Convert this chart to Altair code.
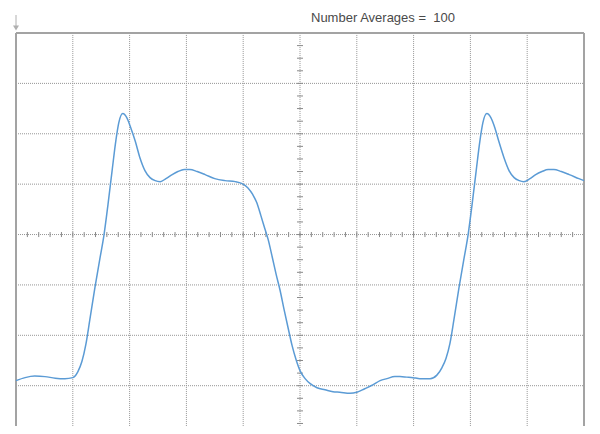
import altair as alt
import pandas as pd

time_div = [0.00, 0.16, 0.33, 0.51, 0.69, 0.86, 1.00,
            1.09, 1.16, 1.23, 1.30, 1.39, 1.48, 1.55, 1.62, 1.69, 1.76, 1.81, 1.88,
            1.95, 2.02, 2.10, 2.18, 2.27, 2.36, 2.45, 2.54, 2.64, 2.75, 2.85, 2.96, 3.06,
            3.19, 3.33, 3.50, 3.68, 3.86, 3.98,
            4.08, 4.17, 4.24, 4.31, 4.38, 4.44, 4.51, 4.58, 4.65, 4.72, 4.79, 4.86, 4.93,
            5.00, 5.09, 5.18, 5.30, 5.44, 5.58, 5.70, 5.88, 6.00, 6.14, 6.29, 6.41, 6.53,
            6.67, 6.76, 6.88, 6.99, 7.11, 7.29, 7.41,
            7.50, 7.57, 7.64, 7.71, 7.80, 7.89, 7.96, 8.03, 8.10, 8.17, 8.22, 8.29,
            8.36, 8.43, 8.50, 8.59, 8.68, 8.77, 8.86, 8.94, 9.05, 9.15, 9.26, 9.37,
            9.47, 9.60, 9.74, 9.91, 10.00]
volt_div = [-2.90, -2.84, -2.81, -2.82, -2.85, -2.86, -2.84,
            -2.72, -2.52, -2.18, -1.69, -1.05, -0.46, 0.00, 0.60, 1.25, 1.88, 2.22, 2.40,
            2.32, 2.12, 1.85, 1.53, 1.27, 1.13, 1.07, 1.05, 1.11, 1.19, 1.25, 1.29, 1.29,
            1.25, 1.19, 1.11, 1.07, 1.05, 1.01,
            0.93, 0.79, 0.63, 0.38, 0.12, -0.10, -0.44, -0.79, -1.11, -1.49, -1.85, -2.20, -2.48,
            -2.70, -2.86, -2.96, -3.04, -3.08, -3.12, -3.13, -3.15, -3.13, -3.06, -2.98, -2.90, -2.86,
            -2.82, -2.82, -2.83, -2.84, -2.86, -2.86, -2.79,
            -2.64, -2.46, -2.16, -1.69, -1.05, -0.46, 0.00, 0.60, 1.25, 1.88, 2.22, 2.40,
            2.32, 2.12, 1.85, 1.53, 1.27, 1.13, 1.07, 1.05, 1.11, 1.19, 1.25, 1.29,
            1.29, 1.25, 1.19, 1.11, 1.07]

title_text = "Number Averages =\u00a0 100"
x_grid = list(range(1, 10))
y_grid = list(range(-3, 4))
x_minor = [k * 0.2 for k in range(1, 50)]
y_minor = [k * 0.25 for k in range(-15, 16)]

wave = pd.DataFrame({"t": time_div, "v": volt_div})
xs = alt.Scale(domain=[0, 10], nice=False, zero=False)
ys = alt.Scale(domain=[-3.8, 4], nice=False, zero=False)

gx = pd.DataFrame({"x": x_grid, "y": [-4] * len(x_grid), "y2": [4] * len(x_grid)})
gy = pd.DataFrame({"y": y_grid, "x": [0] * len(y_grid), "x2": [10] * len(y_grid)})
grid_x = alt.Chart(gx).mark_rule(color="#969696", strokeWidth=1, strokeDash=[1, 1]).encode(
    x=alt.X("x:Q", scale=xs, axis=None),
    y=alt.Y("y:Q", scale=ys, axis=None), y2="y2:Q",
)
grid_y = alt.Chart(gy).mark_rule(color="#969696", strokeWidth=1, strokeDash=[1, 1]).encode(
    y=alt.Y("y:Q", scale=ys, axis=None),
    x=alt.X("x:Q", scale=xs, axis=None), x2="x2:Q",
)

border = pd.DataFrame({"x": [0, 0, 10], "x2": [10, 0, 10], "y": [4, -4, -4], "y2": [4, 4, 4]})
border_layer = alt.Chart(border).mark_rule(color="#a3a3a3", strokeWidth=2).encode(
    x=alt.X("x:Q", scale=xs, axis=None), x2="x2:Q",
    y=alt.Y("y:Q", scale=ys, axis=None), y2="y2:Q",
)

xt = pd.DataFrame({"x": x_minor, "y": [-0.05] * len(x_minor), "y2": [0.05] * len(x_minor)})
xt_layer = alt.Chart(xt).mark_rule(color="#8a8a8a", strokeWidth=1).encode(
    x=alt.X("x:Q", scale=xs, axis=None),
    y=alt.Y("y:Q", scale=ys, axis=None), y2="y2:Q",
)
yt = pd.DataFrame({"y": y_minor, "x": [4.947] * len(y_minor), "x2": [5.053] * len(y_minor)})
yt_layer = alt.Chart(yt).mark_rule(color="#8a8a8a", strokeWidth=1).encode(
    y=alt.Y("y:Q", scale=ys, axis=None),
    x=alt.X("x:Q", scale=xs, axis=None), x2="x2:Q",
)

line = alt.Chart(wave).mark_line(color="#5b9bd5", strokeWidth=1.5, interpolate="monotone").encode(
    x=alt.X("t:Q", scale=xs, axis=None),
    y=alt.Y("v:Q", scale=ys, axis=None),
)

one = pd.DataFrame({"label": [title_text]})
title_layer = alt.Chart(one).mark_text(align="left", baseline="middle", font="Liberation Sans",
                                       fontSize=13, color="#4a4a4a").encode(
    x=alt.value(295), y=alt.value(-15), text="label:N")
arrow_line = alt.Chart(one).mark_rule(color="#b0b0b0", strokeWidth=1).encode(
    x=alt.value(0), y=alt.value(-18), y2=alt.value(-5))
arrow_head = alt.Chart(one).mark_point(shape="triangle-down", filled=True, size=36,
                                       color="#b0b0b0", opacity=1).encode(
    x=alt.value(0), y=alt.value(-5))

chart = alt.layer(grid_x, grid_y, xt_layer, yt_layer, border_layer, line,
                  title_layer, arrow_line, arrow_head).properties(
    width=568, height=393,
    autosize=alt.AutoSizeParams(type="none"),
    padding={"left": 8, "top": 25, "right": 8, "bottom": 0},
    background="white",
).configure_view(stroke=None)

chart.save("out.html", embed_options={"renderer": "svg", "actions": False})
